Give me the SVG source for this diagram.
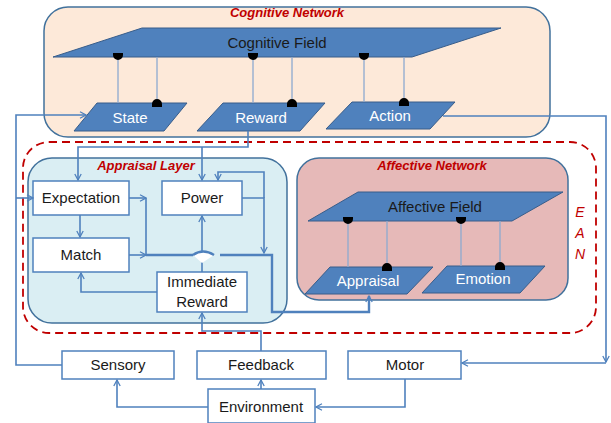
<svg xmlns="http://www.w3.org/2000/svg" width="611" height="423" viewBox="0 0 611 423">
<style>
text{font-family:"Liberation Sans",Arial,sans-serif;text-anchor:middle}
.lbl{font-size:15px;fill:#1a1a1a}
.wl{font-size:15px;fill:#ffffff}
.red{font-size:13px;font-weight:bold;font-style:italic;fill:#C00000}
.ean{font-size:14px;font-style:italic;fill:#C00000}
.box{fill:#ffffff;stroke:#4F81BD;stroke-width:1.5}
.para{fill:#4F81BD;stroke:#385D8A;stroke-width:1}
.cont{stroke:#41719C;stroke-width:1.5}
.c{fill:none;stroke:#4F81BD;stroke-width:1.6}
.bus{fill:none;stroke:#4F81BD;stroke-width:2.4}
.thin{fill:none;stroke:#8EAAD0;stroke-width:1.3}
.dot{fill:#000000}
</style>
<defs>
<marker id="arr" viewBox="0 0 10 10" refX="9" refY="5" markerWidth="8" markerHeight="8" orient="auto" markerUnits="userSpaceOnUse">
<path d="M1.5,1 L9,5 L1.5,9" fill="none" stroke="#4F81BD" stroke-width="1.6"/>
</marker>
</defs>

<g id="containers">
<g id="cognitive-network">
<rect class="cont" x="44" y="7" width="506" height="130" rx="24" fill="#FDE9D9"/>
<text class="red" x="287" y="17">Cognitive Network</text>
</g>
<g id="ean">
<rect x="23" y="142" width="573" height="191" rx="26" fill="none" stroke="#C00000" stroke-width="1.8" stroke-dasharray="8,5"/>
<text class="ean" x="580" y="217">E</text>
<text class="ean" x="580" y="238">A</text>
<text class="ean" x="580" y="259">N</text>
</g>
<g id="appraisal-layer">
<rect class="cont" x="28" y="158" width="259" height="165" rx="24" fill="#DAEEF3"/>
<text class="red" x="146" y="170">Appraisal Layer</text>
</g>
<g id="affective-network">
<rect class="cont" x="297" y="158" width="271" height="142" rx="22" fill="#E6B9B8"/>
<text class="red" x="432" y="170">Affective Network</text>
</g>
</g>

<g id="nodes">
<g id="cognitive-field"><polygon class="para" points="142,28 501,28 412,57 53,57"/><text class="lbl" x="277" y="48">Cognitive Field</text></g>
<g id="state"><polygon class="para" points="97,103 187,103 164,131 74,131"/><text class="wl" x="130" y="123">State</text></g>
<g id="reward"><polygon class="para" points="223,103 325,103 300,131 197,131"/><text class="wl" x="261" y="123">Reward</text></g>
<g id="action"><polygon class="para" points="352,102 455,102 430,129 326,129"/><text class="wl" x="390" y="121">Action</text></g>
<g id="affective-field"><polygon class="para" points="358,192 563,192 512,221 308,221"/><text class="lbl" x="435" y="212">Affective Field</text></g>
<g id="appraisal"><polygon class="para" points="330,267 433,267 407,294 305,294"/><text class="wl" x="368" y="286">Appraisal</text></g>
<g id="emotion"><polygon class="para" points="447,266 545,266 520,293 422,293"/><text class="wl" x="483" y="284">Emotion</text></g>
<g id="expectation"><rect class="box" x="33" y="181" width="96" height="34"/><text class="lbl" x="81" y="203">Expectation</text></g>
<g id="match"><rect class="box" x="33" y="238" width="96" height="34"/><text class="lbl" x="81" y="260">Match</text></g>
<g id="power"><rect class="box" x="162" y="181" width="80" height="34"/><text class="lbl" x="202" y="203">Power</text></g>
<g id="immediate-reward"><rect class="box" x="157" y="272" width="90" height="40"/><text class="lbl" x="202" y="287">Immediate</text><text class="lbl" x="202" y="307">Reward</text></g>
<g id="sensory"><rect class="box" x="62" y="351" width="112" height="28"/><text class="lbl" x="118" y="370">Sensory</text></g>
<g id="feedback"><rect class="box" x="197" y="351" width="129" height="28"/><text class="lbl" x="261" y="370">Feedback</text></g>
<g id="motor"><rect class="box" x="348" y="351" width="113" height="28"/><text class="lbl" x="405" y="370">Motor</text></g>
<g id="environment"><rect class="box" x="208" y="389" width="107" height="34"/><text class="lbl" x="261" y="412">Environment</text></g>
</g>

<g id="connectors">
<g id="field-links">
<path class="thin" d="M118,57V103 M157,57V103 M253,57V103 M292,57V103 M364,57V102 M404,57V102"/>
<path class="thin" d="M348,221V267 M387,221V267 M461,221V266 M500,221V266"/>
<path class="dot" d="M113,53H123V55A5,5 0 0 1 113,55Z M248,53H258V55A5,5 0 0 1 248,55Z M359,53H369V55A5,5 0 0 1 359,55Z"/>
<path class="dot" d="M152,107V104A5,5 0 0 1 162,104V107Z M287,107V104A5,5 0 0 1 297,104V107Z M399,106V103A5,5 0 0 1 409,103V106Z"/>
<path class="dot" d="M343,217H353V219A5,5 0 0 1 343,219Z M456,217H466V219A5,5 0 0 1 456,219Z"/>
<path class="dot" d="M382,271V268A5,5 0 0 1 392,268V271Z M495,270V267A5,5 0 0 1 505,267V270Z"/>
</g>
<path class="c" d="M62,365H16V115H86" marker-end="url(#arr)"/>
<path class="c" d="M16,198H33" marker-end="url(#arr)"/>
<path class="c" d="M443,116H606V362" marker-end="url(#arr)"/>
<path class="c" d="M606,363H462" marker-end="url(#arr)"/>
<path class="c" d="M405,379V407H316" marker-end="url(#arr)"/>
<path class="c" d="M208,407H117V380" marker-end="url(#arr)"/>
<path class="c" d="M261,389V380" marker-end="url(#arr)"/>
<path class="c" d="M261,351V331H202V313" marker-end="url(#arr)"/>
<path class="c" d="M248,131V147H78V180" marker-end="url(#arr)"/>
<path class="c" d="M202,147V180" marker-end="url(#arr)"/>
<path class="c" d="M80,215V237" marker-end="url(#arr)"/>
<path class="c" d="M129,198H146" marker-end="url(#arr)"/>
<path class="c" d="M146,198V255"/>
<path class="c" d="M129,255H146" marker-end="url(#arr)"/>
<path class="c" d="M157,292H81V273" marker-end="url(#arr)"/>
<path class="c" d="M242,198H264V253" marker-end="url(#arr)"/>
<path class="c" d="M264,198V172H218V180" marker-end="url(#arr)"/>
<path class="c" d="M202,272V216" marker-end="url(#arr)"/>
<path class="bus" d="M146,255H193"/>
<path d="M193,255Q203,248 214,255L202,263Z" fill="#ffffff" stroke="none"/>
<path class="bus" d="M193,255Q203,248 214,255"/>
<path class="bus" d="M220,255H272V312H369V296" marker-end="url(#arr)"/>
</g>
</svg>
